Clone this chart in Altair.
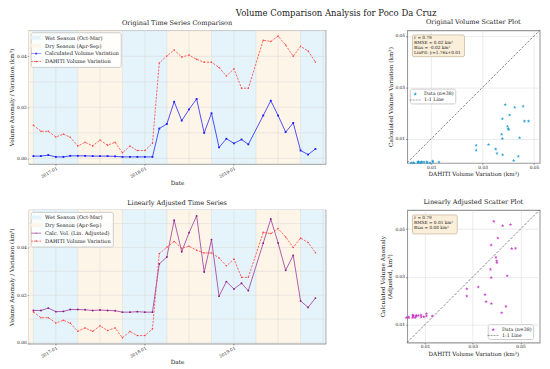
import altair as alt
import pandas as pd

FONT = "DejaVu Serif"

# ---------------- data ----------------
dates = ["2016-10-01", "2016-11-01", "2016-12-01", "2017-01-01", "2017-02-01", "2017-03-01",
         "2017-04-01", "2017-05-01", "2017-06-01", "2017-07-01", "2017-08-01", "2017-09-01",
         "2017-10-01", "2017-11-01", "2017-12-01", "2018-01-01", "2018-02-01", "2018-03-01",
         "2018-04-01", "2018-05-01", "2018-06-01", "2018-07-01", "2018-08-01", "2018-09-01",
         "2018-10-01", "2018-11-01", "2018-12-01", "2019-01-01", "2019-02-01", "2019-03-01",
         "2019-05-01", "2019-06-01", "2019-07-01", "2019-08-01", "2019-09-01", "2019-10-01",
         "2019-11-01", "2019-12-01"]

calc_vol = [0.0009, 0.0009, 0.0013, 0.0006, 0.0006, 0.0010, 0.0010, 0.0010, 0.0009, 0.0009,
            0.0009, 0.0008, 0.0006, 0.0006, 0.0006, 0.0006, 0.0006, 0.0117, 0.0135, 0.0222,
            0.0148, 0.0192, 0.0233, 0.0100, 0.0177, 0.0043, 0.0077, 0.0059, 0.0074, 0.0055,
            0.0168, 0.0226, 0.0168, 0.0103, 0.0139, 0.0031, 0.0015, 0.0037]

dahiti_vol = [0.0130, 0.0106, 0.0106, 0.0084, 0.0095, 0.0083, 0.0049, 0.0063, 0.0049, 0.0072,
              0.0052, 0.0063, 0.0022, 0.0048, 0.0031, 0.0031, 0.0059, 0.0374, 0.0401, 0.0425,
              0.0397, 0.0405, 0.0388, 0.0377, 0.0377, 0.0356, 0.0323, 0.0351, 0.0275, 0.0275,
              0.0463, 0.0458, 0.0479, 0.0444, 0.0400, 0.0439, 0.0421, 0.0378]

adj_vol = [0.0136, 0.0136, 0.0146, 0.0131, 0.0132, 0.0140, 0.0140, 0.0139, 0.0136, 0.0138,
           0.0136, 0.0135, 0.0129, 0.0129, 0.0131, 0.0129, 0.0129, 0.0331, 0.0360, 0.0514,
           0.0382, 0.0462, 0.0532, 0.0297, 0.0433, 0.0196, 0.0257, 0.0226, 0.0250, 0.0219,
           0.0418, 0.0519, 0.0419, 0.0304, 0.0367, 0.0176, 0.0149, 0.0188]

band_start = ["2016-04-01", "2016-10-01", "2017-04-01", "2017-10-01", "2018-04-01",
              "2018-10-01", "2019-04-01", "2019-10-01"]
band_end = ["2016-10-01", "2017-04-01", "2017-10-01", "2018-04-01", "2018-10-01",
            "2019-04-01", "2019-10-01", "2020-04-01"]
band_season = ["Dry", "Wet", "Dry", "Wet", "Dry", "Wet", "Dry", "Wet"]

year_ticks = ["2017-01-01", "2018-01-01", "2019-01-01"]
grid_dates = ["2016-10-01", "2017-01-01", "2017-04-01", "2017-07-01", "2017-10-01",
              "2018-01-01", "2018-04-01", "2018-07-01", "2018-10-01", "2019-01-01",
              "2019-04-01", "2019-07-01", "2019-10-01", "2020-01-01"]

ts_y_ticks = [0.0, 0.01, 0.02, 0.03, 0.04, 0.05]
sc_ticks = [0.01, 0.02, 0.03, 0.04, 0.05]

ts1_ydomain = [-0.0021, 0.0502]
ts2_ydomain = [-0.0002, 0.0557]
sc1_lim = [0.0006, 0.0522]
sc2_lim = [0.0025, 0.0580]

stats1 = "r = 0.79\nRMSE = 0.02 km³\nBias = -0.02 km³\nLinFit: y=1.76x+0.01"
stats2 = "r = 0.79\nRMSE = 0.01 km³\nBias = 0.00 km³"

# ---------------- styling ----------------
WET = "#e4f4fa"
DRY = "#fdf5e7"
BLUE = "#3b3bff"
RED = "#ff4040"
PURPLE_LINE = "#a64ca6"
PURPLE_PT = "#8a1a8a"
SC1 = "#1f9bd6"
SC2 = "#c536c5"
TXT = "#222222"
GRID = "#d9d9d9"

TS_W, TS_H = 300, 135
SC_W, SC_H = 134, 134

PATCH = "M-1.25,-0.5H1.25V0.5H-1.25Z"
LINE_SQ = "M-1.25,-0.08H1.25V0.08H-1.25Z M-0.22,-0.22H0.22V0.22H-0.22Z"
LINE_DOT = "M-1.25,-0.08H1.25V0.08H-1.25Z M0.2,0A0.2,0.2 0 1 1 -0.2,0A0.2,0.2 0 1 1 0.2,0Z"
LINE_DASH_DOT = ("M-1.25,-0.08H-0.8V0.08H-1.25Z M-0.55,-0.08H-0.1V0.08H-0.55Z "
                 "M0.15,-0.08H0.6V0.08H0.15Z M0.85,-0.08H1.25V0.08H0.85Z "
                 "M0.2,0A0.2,0.2 0 1 1 -0.2,0A0.2,0.2 0 1 1 0.2,0Z")
STAR = ("M0,-1L0.225,-0.309L0.951,-0.309L0.363,0.118L0.588,0.809L0,0.382"
        "L-0.588,0.809L-0.363,0.118L-0.951,-0.309L-0.225,-0.309Z")
STAR_LEG = ("M0,-0.5L0.112,-0.155L0.476,-0.155L0.182,0.059L0.294,0.405L0,0.191"
            "L-0.294,0.405L-0.182,0.059L-0.476,-0.155L-0.112,-0.155Z")
DASH_LEG = ("M-1.4,-0.06H-0.9V0.06H-1.4Z M-0.65,-0.06H-0.15V0.06H-0.65Z "
            "M0.1,-0.06H0.6V0.06H0.1Z M0.85,-0.06H1.35V0.06H0.85Z")


def dt(s):
    y, m, d = [int(v) for v in s.split("-")]
    return alt.DateTime(year=y, month=m, date=d, utc=True)


x_scale = alt.Scale(type="utc", domain=[dt("2016-09-12"), dt("2020-01-11")])
x_axis = alt.Axis(
    values=[dt(s) for s in year_ticks],
    labelExpr="utcFormat(datum.value, '%Y-%m')",
    labelOverlap=False, labelFlush=False, grid=False,
    labelAngle=-30, labelAlign="right", labelBaseline="top", labelPadding=1,
    tickSize=1.5, title="Date", titlePadding=1, titleColor=TXT, labelColor=TXT,
)


def ts_panel(title, series_label, series_vals, line_color, pt_color, pt_shape, ydomain, sym):
    df = pd.DataFrame({"date": dates, "dahiti": dahiti_vol, "series": series_vals})
    bands = pd.DataFrame({"start": band_start, "end": band_end, "season": band_season})
    y_scale = alt.Scale(domain=ydomain, nice=False, zero=False)
    y_axis = alt.Axis(values=ts_y_ticks, format=".2f", tickSize=1.5, labelPadding=1, grid=False,
                      labelOverlap=False, labelFlush=False, titleColor=TXT, labelColor=TXT,
                      title="Volume Anomaly / Variation (km³)", titlePadding=2)

    band_layer = alt.Chart(bands).mark_rect(clip=True).encode(
        x=alt.X("start:T", scale=x_scale, axis=x_axis),
        x2="end:T",
        y=alt.value(0), y2=alt.value(TS_H),
        fill=alt.Fill("season:N", scale=alt.Scale(domain=["Wet", "Dry"], range=[WET, DRY]),
                      legend=None),
    )
    vgrid = alt.Chart(pd.DataFrame({"g": grid_dates})).mark_rule(
        clip=True, color=GRID, strokeWidth=0.5).encode(x=alt.X("g:T", scale=x_scale, axis=x_axis))
    hgrid = alt.Chart(pd.DataFrame({"h": ts_y_ticks})).mark_rule(
        clip=True, color=GRID, strokeWidth=0.5).encode(y=alt.Y("h:Q", scale=y_scale, axis=y_axis))
    base = alt.Chart(df).encode(x=alt.X("date:T", scale=x_scale, axis=x_axis))
    s_line = base.mark_line(color=line_color, strokeWidth=0.9).encode(
        y=alt.Y("series:Q", scale=y_scale, axis=y_axis))
    s_pts = base.mark_point(filled=True, shape=pt_shape, size=3.5, color=pt_color,
                            opacity=1).encode(y="series:Q")
    d_line = base.mark_line(color=RED, strokeWidth=0.8, strokeDash=[2.2, 1.3]).encode(
        y=alt.Y("dahiti:Q", scale=y_scale, axis=y_axis))
    d_pts = base.mark_point(filled=True, shape="circle", size=2.5, color=RED,
                            opacity=1).encode(y="dahiti:Q")

    keys = ["Wet Season (Oct-Mar)", "Dry Season (Apr-Sep)", series_label, "DAHITI Volume Variation"]
    leg_df = pd.DataFrame({"key": keys, "date": [dates[0]] * 4, "v": [1.0] * 4})
    leg = alt.Legend(orient="top-left", offset=1.5, padding=1.5, title=None,
                     fillColor="rgba(255,255,255,0.85)", strokeColor="#cccccc",
                     cornerRadius=2, symbolSize=64, symbolStrokeWidth=0,
                     labelOffset=5, rowPadding=0, labelFontSize=5.2, labelFont=FONT,
                     labelColor=TXT)
    leg_layer = alt.Chart(leg_df).mark_point(filled=True, clip=True, opacity=1).encode(
        x="date:T", y="v:Q",
        color=alt.Color("key:N", scale=alt.Scale(domain=keys, range=[WET, DRY, line_color, RED]),
                        legend=leg),
        shape=alt.Shape("key:N", scale=alt.Scale(domain=keys,
                                                 range=[PATCH, PATCH, sym, LINE_DASH_DOT]),
                        legend=leg),
    )
    return alt.layer(band_layer, vgrid, hgrid, s_line, s_pts, d_line, d_pts, leg_layer).properties(
        width=TS_W, height=TS_H,
        title=alt.TitleParams(title, fontSize=6.6, offset=3.5, fontWeight="normal", color=TXT,
                              font=FONT))


def sc_panel(title, yvals, color, lim, stats, box, ytitle, leg_keys, leg_xy):
    df = pd.DataFrame({"d": dahiti_vol, "c": yvals})
    line_df = pd.DataFrame({"a": lim, "b": lim})
    scale = alt.Scale(domain=lim, nice=False, zero=False)
    x_ax = alt.Axis(values=sc_ticks, format=".2f", tickSize=1.5, labelPadding=1,
                    labelOverlap=False, labelFlush=False, titleColor=TXT, labelColor=TXT,
                    title="DAHITI Volume Variation (km³)", titlePadding=2)
    y_ax = alt.Axis(values=sc_ticks, format=".2f", tickSize=1.5, labelPadding=1,
                    labelOverlap=False, labelFlush=False, titleColor=TXT, labelColor=TXT,
                    title=ytitle, titlePadding=2)
    diag = alt.Chart(line_df).mark_line(color="#333333", strokeWidth=0.7,
                                        strokeDash=[2.5, 1.5], opacity=0.85).encode(
        x=alt.X("a:Q", scale=scale, axis=x_ax), y=alt.Y("b:Q", scale=scale, axis=y_ax))
    pts = alt.Chart(df).mark_point(filled=True, shape=STAR, size=14, color=color,
                                   opacity=0.95).encode(x="d:Q", y="c:Q")
    st_df = pd.DataFrame({"t": [stats]})
    rect = alt.Chart(st_df).mark_rect(fill="#fbefd9", stroke="#b8a78a", strokeWidth=0.6,
                                      cornerRadius=1.5).encode(
        x=alt.value(box[0]), x2=alt.value(box[1]), y=alt.value(box[2]), y2=alt.value(box[3]))
    txt = alt.Chart(st_df).mark_text(align="left", baseline="top", fontSize=4.3, lineHeight=5.2,
                                     lineBreak="\n", color=TXT).encode(
        x=alt.value(box[0] + 1.6), y=alt.value(box[2] + 1.0), text="t:N")
    leg_df = pd.DataFrame({"key": leg_keys, "a": [lim[0] * 10] * 2, "b": [1.0] * 2})
    leg = alt.Legend(orient="none", legendX=leg_xy[0], legendY=leg_xy[1], padding=1.5,
                     title=None, fillColor="rgba(255,255,255,0.85)", strokeColor="#cccccc",
                     cornerRadius=2, symbolSize=64, symbolStrokeWidth=0, labelOffset=5,
                     rowPadding=0, labelFontSize=4.8, labelFont=FONT, labelColor=TXT)
    leg_layer = alt.Chart(leg_df).mark_point(filled=True, clip=True, opacity=1).encode(
        x="a:Q", y="b:Q",
        color=alt.Color("key:N", scale=alt.Scale(domain=leg_keys, range=[color, "#444444"]),
                        legend=leg),
        shape=alt.Shape("key:N", scale=alt.Scale(domain=leg_keys, range=[STAR_LEG, DASH_LEG]),
                        legend=leg),
    )
    return alt.layer(diag, pts, rect, txt, leg_layer).properties(
        width=SC_W, height=SC_H,
        title=alt.TitleParams(title, fontSize=6.6, offset=3.5, fontWeight="normal", color=TXT,
                              font=FONT))


ts1 = ts_panel("Original Time Series Comparison", "Calculated Volume Variation", calc_vol,
               BLUE, "#2020ff", "square", ts1_ydomain, LINE_SQ)
ts2 = ts_panel("Linearly Adjusted Time Series", "Calc. Vol. (Lin. Adjusted)", adj_vol,
               PURPLE_LINE, PURPLE_PT, "circle", ts2_ydomain, LINE_DOT)
sc1 = sc_panel("Original Volume Scatter Plot", calc_vol, SC1, sc1_lim, stats1,
               [5.4, 58, 4.7, 26.7], "Calculated Volume Variation (km³)",
               ["Data (n=38)", "1:1 Line"], [2.7, 59])
sc2 = sc_panel("Linearly Adjusted Scatter Plot", adj_vol, SC2, sc2_lim, stats2,
               [5.4, 50.7, 5, 24.3], ["Calculated Volume Anomaly", "(Adjusted, km³)"],
               ["Data (n=38)", "1:1 Line"], [81.5, 115.5])

chart = alt.concat(ts1, sc1, ts2, sc2, columns=2,
                   spacing={"row": 46.7, "column": 82.6}, bounds="flush").resolve_scale(
    color="independent", shape="independent", fill="independent"
).resolve_legend(color="independent", shape="independent").properties(
    title=alt.TitleParams("Volume Comparison Analysis for Poco Da Cruz", fontSize=8.6,
                          anchor="middle", dx=62, offset=1, fontWeight="normal", color=TXT,
                          font=FONT),
    padding={"left": 0, "top": -1.5, "right": 0, "bottom": 0},
).configure(font=FONT).configure_view(
    stroke="#9a9a9a", strokeWidth=1.1
).configure_axis(
    labelFont=FONT, titleFont=FONT, labelFontSize=4.4, titleFontSize=5.8,
    titleFontWeight="normal", labelColor=TXT, titleColor=TXT,
    tickColor="#444444", tickWidth=0.6, domain=False,
    gridColor=GRID, gridWidth=0.5,
).configure_title(font=FONT, color=TXT)

chart.save("out.html", embed_options={"renderer": "svg", "actions": False})
